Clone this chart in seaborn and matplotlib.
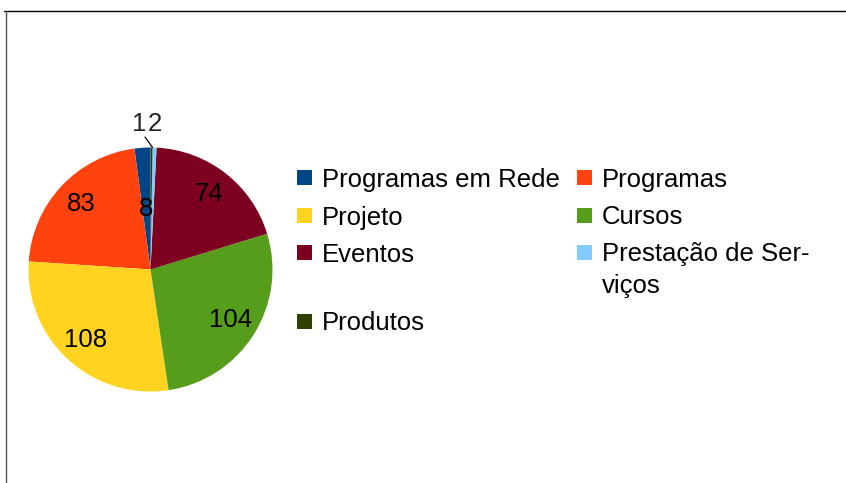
import numpy as np
import matplotlib
matplotlib.use("Agg")
import matplotlib.pyplot as plt
import seaborn as sns
from matplotlib.lines import Line2D
from matplotlib.patches import Rectangle

categories = ["Programas em Rede", "Programas", "Projeto", "Cursos",
              "Eventos", "Prestação de Ser-\nviços", "Produtos"]
values = [8, 83, 108, 104, 74, 2, 1]
colors = ["#004586", "#ff420e", "#ffd320", "#579d1c", "#7e0021", "#83caff", "#314004"]

W, H = 846, 483
sns.set_theme(style="white")
plt.rcParams["font.family"] = ["Liberation Sans", "DejaVu Sans"]
FS = 18.5

fig = plt.figure(figsize=(W / 100, H / 100), dpi=100)
fig.patch.set_facecolor("white")


def fx(px):
    return px / W


def fy(py):
    return 1 - py / H


# pie axes, 122 px per data unit, centre at (150.5, 269.5)
cx, cy, R = 150.5, 269.5, 122
L, Rr, T, B = 8, 300, 100, 440
ax = fig.add_axes([fx(L), fy(B), (Rr - L) / W, (B - T) / H])
wedges, _ = ax.pie(values, colors=colors, startangle=90, counterclock=True,
                   wedgeprops=dict(linewidth=0))
ax.set_xlim((L - cx) / R, (Rr - cx) / R)
ax.set_ylim((cy - B) / R, (cy - T) / R)
ax.set_aspect("equal", adjustable="box")
ax.axis("off")

# value labels
total = sum(values)
start = 90.0
mids = []
for v in values:
    sweep = 360.0 * v / total
    mids.append(start + sweep / 2)
    start += sweep

for i, (v, m) in enumerate(zip(values, mids)):
    if v < 5:
        continue
    r = 0.5 if v < 20 else 0.78
    a = np.deg2rad(m)
    ax.text(r * np.cos(a), r * np.sin(a), str(v), ha="center", va="center",
            fontsize=FS, color="black")

# the two tiny slices are labelled outside, above the pie
ax.text(-0.094, 1.19, str(values[6]), ha="center", va="center", fontsize=FS)
ax.text(0.037, 1.19, str(values[5]), ha="center", va="center", fontsize=FS)
a = np.deg2rad(mids[6] - 0.5)
ax.plot([np.cos(a), -0.045], [np.sin(a), 1.086], color="black", lw=0.9)

# legend, laid out row by row like the original
leg_rows = [178, 178, 215, 215, 252, 252, 321]
leg_cols = [0, 1, 0, 1, 0, 1, 0]
col_x = [297, 577]
for lab, c, ry, ci in zip(categories, colors, leg_rows, leg_cols):
    x0 = col_x[ci]
    fig.add_artist(Rectangle((fx(x0), fy(ry + 7.5)), 15 / W, 15 / H,
                             transform=fig.transFigure, color=c, lw=0))
    for k, line in enumerate(lab.split("\n")):
        fig.text(fx(x0 + 25), fy(ry + 31 * k), line, ha="left",
                 va="center_baseline", fontsize=FS, color="black")

# border of the chart area
fig.add_artist(Line2D([fx(4), fx(W)], [fy(10.5), fy(10.5)],
                      transform=fig.transFigure, color="black", lw=1.0))
fig.add_artist(Line2D([fx(5.5), fx(5.5)], [fy(10.5), fy(H)],
                      transform=fig.transFigure, color="#555555", lw=1.0))

fig.savefig("out.png", dpi=100)
